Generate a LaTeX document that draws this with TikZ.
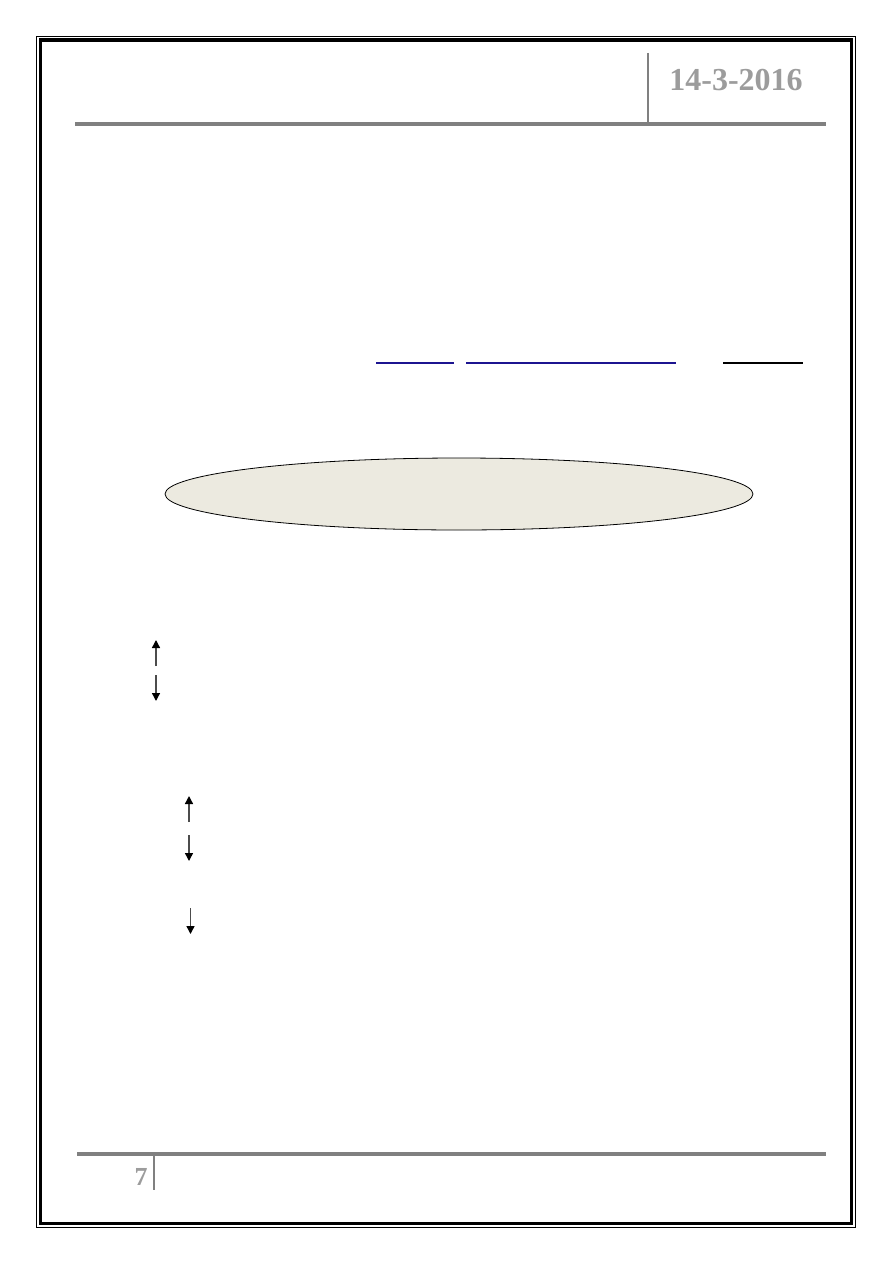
\documentclass[tikz,border=0pt]{standalone}
\usepackage{fontspec}
\setmainfont{Liberation Serif}
\usepackage{tikz}
\usetikzlibrary{arrows.meta,shapes.geometric}
\definecolor{rulegray}{HTML}{808080}
\definecolor{dategray}{HTML}{9C9C9C}
\definecolor{linkblue}{HTML}{1C1490}
\definecolor{ovalfill}{HTML}{ECEAE0}
\tikzset{updown/.style={draw=black!70,line width=1.4pt,-{Triangle[black,length=8pt,width=8pt]}}}

\begin{document}
\begin{tikzpicture}[x=1pt,y=-1pt]
\useasboundingbox (0,0) rectangle (893,1263);

% page frame
\draw[line width=1.2pt] (36.5,36.5) rectangle (855.5,1227.5);
\draw[line width=3.5pt] (40.5,40) rectangle (851.5,1223.5);

\begin{scope}[every node/.style={inner sep=0pt,font=\bfseries,text=dategray}]
    \node (date) at (736,80) {\fontsize{32}{32}\selectfont 14-3-2016};
    \node (page) at (141,1177) {\fontsize{26}{26}\selectfont 7};
\end{scope}

% header and footer rules
\coordinate (headL) at (75,124);
\coordinate (headR) at (826,124);
\coordinate (headT) at (648,53);
\coordinate (headB) at (648,124);
\coordinate (footL) at (77,1154);
\coordinate (footR) at (826,1154);
\coordinate (footT) at (154,1154);
\coordinate (footB) at (154,1190);
\draw[rulegray,line width=4pt] (headL) -- (headR);
\draw[rulegray,line width=2.5pt] (headT) -- (headB);
\draw[rulegray,line width=3.5pt] (footL) -- (footR);
\draw[rulegray,line width=2.5pt] (footT) -- (footB);

% underlines
\coordinate (u1a) at (376,363);
\coordinate (u1b) at (454,363);
\coordinate (u2a) at (466,363);
\coordinate (u2b) at (676,363);
\coordinate (u3a) at (723,363);
\coordinate (u3b) at (803,363);
\draw[linkblue,line width=1.3pt] (u1a) -- (u1b);
\draw[linkblue,line width=1.3pt] (u2a) -- (u2b);
\draw[black,line width=1.3pt] (u3a) -- (u3b);

% oval
\node[ellipse,draw,thick,fill=ovalfill,minimum width=588pt,minimum height=72pt,inner sep=0pt] (oval) at (459,494) {};

% arrows
\coordinate (a1t) at (156,666);
\coordinate (a1h) at (156,640);
\coordinate (a2t) at (156,675);
\coordinate (a2h) at (156,701);
\coordinate (b1t) at (189,822);
\coordinate (b1h) at (189,796);
\coordinate (b2t) at (189,835);
\coordinate (b2h) at (189,861);
\coordinate (c1t) at (190.5,908);
\coordinate (c1h) at (190.5,934);
\draw[updown] (a1t) -- (a1h);
\draw[updown] (a2t) -- (a2h);
\draw[updown] (b1t) -- (b1h);
\draw[updown] (b2t) -- (b2h);
\draw[updown] (c1t) -- (c1h);
\end{tikzpicture}
\end{document}
